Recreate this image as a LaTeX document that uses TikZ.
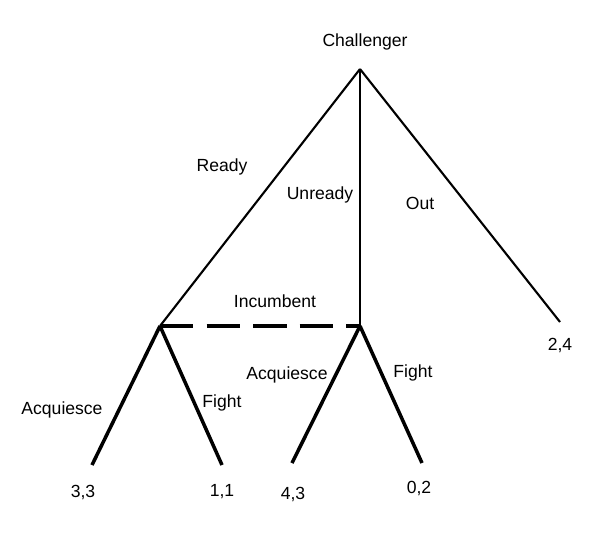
\documentclass[tikz,border=0pt]{standalone}
\usepackage{fontspec}
\setmainfont{Liberation Sans}
\usetikzlibrary{positioning}

\begin{document}
\begin{tikzpicture}[x=0.02cm, y=-0.02cm,
    choice/.style={line width=1.2pt},
    reply/.style={line width=2pt},
    infoset/.style={line width=2pt, dash pattern=on 19pt off 7.5pt},
    lbl/.style={font=\fontsize{10}{12}\selectfont, inner sep=1pt}
]
    \useasboundingbox (0,0) rectangle (598,558);
    % decision points
    \coordinate (root) at (360,69);
    \coordinate (ready) at (160,326);
    \coordinate (unready) at (360,326);
    \coordinate (outend) at (560,322);
    \coordinate (aqA) at (92,465);
    \coordinate (fiA) at (222,465);
    \coordinate (aqB) at (292,463);
    \coordinate (fiB) at (422,463);
    % players
    \node[lbl] (chal) at (365,42) {Challenger};
    \node[lbl] (inc) at (275,301) {Incumbent};
    % payoffs
    \node[lbl] (p33) at (83,492) {3,3};
    \node[lbl] (p11) at (222,492) {1,1};
    \node[lbl] (p43) at (293,494) {4,3};
    \node[lbl] (p02) at (419,488) {0,2};
    \node[lbl] (p24) at (560,345) {2,4};
    % challenger moves
    \draw[choice] (root) -- (ready);
    \draw[choice] (root) -- (unready);
    \draw[choice] (root) -- (outend);
    \node[lbl] (rdy) at (222,167) {Ready};
    \node[lbl] (unrdy) at (320,195) {Unready};
    \node[lbl] (out) at (420,203) {Out};
    % incumbent moves
    \draw[infoset] (ready) -- (unready);
    \draw[reply] (ready) -- (aqA);
    \draw[reply] (ready) -- (fiA);
    \draw[reply] (unready) -- (aqB);
    \draw[reply] (unready) -- (fiB);
    \node[lbl] (acqA) at (62,410) {Acquiesce};
    \node[lbl] (figA) at (222,403) {Fight};
    \node[lbl] (acqB) at (287,375) {Acquiesce};
    \node[lbl] (figB) at (413,373) {Fight};
\end{tikzpicture}
\end{document}
